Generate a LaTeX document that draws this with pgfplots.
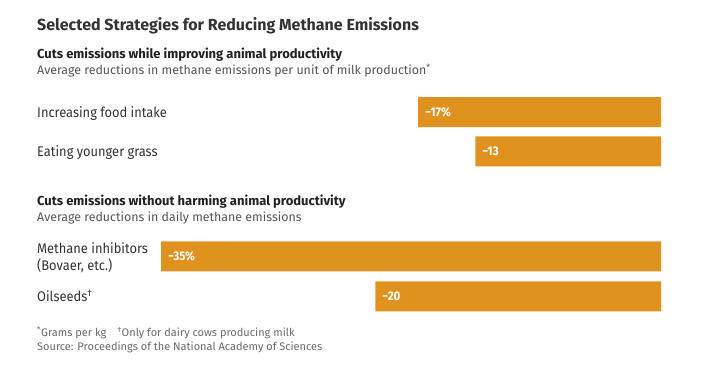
\documentclass[border=0pt]{standalone}
\usepackage{pgfplots}
\pgfplotsset{compat=1.18}
\usepackage{fontspec}
\setmainfont{Fira Sans}
\newfontfamily\narrow[FakeStretch=0.92]{Fira Sans}
\definecolor{barorange}{HTML}{E0921F}
\definecolor{titlegray}{HTML}{333333}
\definecolor{headgray}{HTML}{222222}
\definecolor{subgray}{HTML}{555555}
\definecolor{labgray}{HTML}{333333}
\definecolor{footgray}{HTML}{6A6A6A}
\begin{document}
\begin{tikzpicture}
\def\lx{-43.68}
\begin{axis}[
  scale only axis,
  width=705pt, height=373pt,
  xmin=-46.27, xmax=3.08,
  ymin=0, ymax=373,
  y dir=reverse,
  hide axis,
  clip=false,
  xbar,
  bar width=30pt,
  point meta=explicit symbolic,
  nodes near coords,
  every node near coord/.append style={anchor=west, xshift=3.5pt, text=white, font=\narrow\bfseries\fontsize{12.5}{14}\selectfont},
]
\addplot[draw=none, fill=barorange] coordinates {
  (-17,112) [−17\%]
  (-13,151.3) [−13]
  (-35,256.3) [−35\%]
  (-20,296.3) [−20]
};
\path (rel axis cs:0,0) rectangle (rel axis cs:1,1);
% titles
\node[anchor=base west, inner sep=0pt, text=titlegray, font=\bfseries\fontsize{16}{19}\selectfont] at (axis cs:\lx,30.7) {Selected Strategies for Reducing Methane Emissions};
\node[anchor=base west, inner sep=0pt, text=headgray, font=\bfseries\fontsize{13}{15}\selectfont] at (axis cs:\lx,58.3) {Cuts emissions while improving animal productivity};
\node[anchor=base west, inner sep=0pt, text=subgray, font=\fontsize{12.4}{15}\selectfont] at (axis cs:\lx,74.5) {Average reductions in methane emissions per unit of milk production\textsuperscript{*}};
\node[anchor=base west, inner sep=0pt, text=labgray, font=\narrow\fontsize{14}{16}\selectfont] at (axis cs:\lx,117.7) {Increasing food intake};
\node[anchor=base west, inner sep=0pt, text=labgray, font=\narrow\fontsize{14}{16}\selectfont] at (axis cs:\lx,156.7) {Eating younger grass};
\node[anchor=base west, inner sep=0pt, text=headgray, font=\bfseries\fontsize{13}{15}\selectfont] at (axis cs:\lx,205.7) {Cuts emissions without harming animal productivity};
\node[anchor=base west, inner sep=0pt, text=subgray, font=\fontsize{12.4}{15}\selectfont] at (axis cs:\lx,221) {Average reductions in daily methane emissions};
\node[anchor=base west, inner sep=0pt, text=labgray, font=\narrow\fontsize{14}{16}\selectfont] at (axis cs:\lx,253) {Methane inhibitors};
\node[anchor=base west, inner sep=0pt, text=labgray, font=\narrow\fontsize{14}{16}\selectfont] at (axis cs:\lx,270) {(Bovaer, etc.)};
\node[anchor=base west, inner sep=0pt, text=labgray, font=\narrow\fontsize{14}{16}\selectfont] at (axis cs:\lx,301.3) {Oilseeds\textsuperscript{†}};
\node[anchor=base west, inner sep=0pt, text=footgray, font=\fontsize{11}{13}\selectfont] at (axis cs:\lx,336.7) {\textsuperscript{*}Grams per kg\quad\textsuperscript{†}Only for dairy cows producing milk};
\node[anchor=base west, inner sep=0pt, text=footgray, font=\fontsize{11}{13}\selectfont] at (axis cs:\lx,350.7) {Source: Proceedings of the National Academy of Sciences};
\end{axis}
\end{tikzpicture}
\end{document}
